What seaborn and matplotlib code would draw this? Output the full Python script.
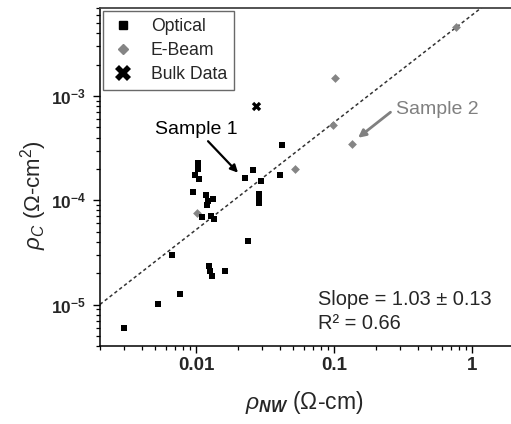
#!/usr/bin/env python
'''
plot.py - contact resistivity vs nanowire resistivity (log-log)
'''

import matplotlib
matplotlib.use("Agg")

import seaborn as sns
from matplotlib import pyplot as plt
from matplotlib.lines import Line2D
from matplotlib.ticker import NullFormatter

#
#   Data
#
# optical lithography samples: rho_NW (Ohm-cm), rho_C (Ohm-cm^2)
optical_rho_nw = [0.0417, 0.0103, 0.0103, 0.0097, 0.0104, 0.0257, 0.0226,
                  0.0295, 0.0404, 0.0094, 0.0117, 0.0131, 0.0121, 0.0119,
                  0.0110, 0.0127, 0.0134, 0.0284, 0.0284, 0.0284, 0.0237,
                  0.0067, 0.0123, 0.0126, 0.0129, 0.0162, 0.0076, 0.0053,
                  0.0030]
optical_rho_c = [3.38e-4, 2.30e-4, 1.98e-4, 1.75e-4, 1.61e-4, 1.94e-4, 1.62e-4,
                 1.52e-4, 1.75e-4, 1.21e-4, 1.12e-4, 1.04e-4, 9.8e-5, 9.1e-5,
                 6.9e-5, 7.0e-5, 6.55e-5, 1.16e-4, 1.045e-4, 9.4e-5, 4.1e-5,
                 3.0e-5, 2.36e-5, 2.11e-5, 1.87e-5, 2.08e-5, 1.26e-5, 1.01e-5,
                 6.0e-6]

# e-beam lithography samples
ebeam_rho_nw = [0.0515, 0.0101, 0.766, 0.101, 0.0977, 0.134]
ebeam_rho_c = [1.99e-4, 7.6e-5, 4.6e-3, 1.49e-3, 5.3e-4, 3.5e-4]

# bulk measurement
bulk_rho_nw = [0.0269]
bulk_rho_c = [8.1e-4]

# power law fit  rho_C = prefactor * rho_NW ** slope
fit_slope = 1.03
fit_prefactor = 6.04e-3
fit_text = "Slope = 1.03 \u00b1 0.13"
r2_text = "R\u00b2 = 0.66"

x_ticks = [0.01, 0.1, 1]
x_tick_labels = ["0.01", "0.1", "1"]
y_ticks = [1e-5, 1e-4, 1e-3]
y_tick_labels = [r"$\mathbf{10^{-5}}$", r"$\mathbf{10^{-4}}$",
                 r"$\mathbf{10^{-3}}$"]

legend_labels = ["Optical", "E-Beam", "Bulk Data"]

x_limits = (0.002, 2.0)
y_limits = (4.0e-6, 7.0e-3)


def main():

    sns.set_style("ticks")
    plt.rcParams['font.family'] = ['Liberation Sans', 'DejaVu Sans']
    plt.rcParams['mathtext.fontset'] = 'custom'
    plt.rcParams['mathtext.rm'] = 'Liberation Sans'
    plt.rcParams['mathtext.it'] = 'Liberation Sans:italic'
    plt.rcParams['mathtext.bf'] = 'Liberation Sans:bold'
    plt.rcParams['mathtext.bfit'] = 'Liberation Sans:italic:bold'

    fig = plt.figure(figsize=(5.11, 4.24), dpi=100)
    # the right end of the axes runs off the picture, like the original
    ax = fig.add_axes([100 / 511, 1 - 346 / 424, 414 / 511, 338 / 424])

    ax.set_xscale("log")
    ax.set_yscale("log")
    ax.set_xlim(*x_limits)
    ax.set_ylim(*y_limits)

    # dashed fit line
    fit_x = list(x_limits)
    fit_y = [fit_prefactor * v ** fit_slope for v in fit_x]
    sns.lineplot(x=fit_x, y=fit_y, ax=ax, color="#333333", lw=1.1,
                 dashes=False, zorder=1)
    ax.lines[-1].set_dashes((2.2, 1.8))

    sns.scatterplot(x=ebeam_rho_nw, y=ebeam_rho_c, ax=ax, marker="D",
                    color="#858585", s=20, linewidth=0, zorder=3)
    sns.scatterplot(x=optical_rho_nw, y=optical_rho_c, ax=ax, marker="s",
                    color="black", s=19, linewidth=0, zorder=4)
    sns.scatterplot(x=bulk_rho_nw, y=bulk_rho_c, ax=ax, marker="X",
                    color="black", s=45, linewidth=0, zorder=4)

    # annotations
    ax.text(0.00499, 4.78e-4, "Sample 1", fontsize=14, ha="left",
            va="center", color="black")
    ax.annotate("", xy=(0.0200, 1.84e-4), xytext=(0.01213, 3.69e-4),
                arrowprops=dict(arrowstyle="-|>", color="black", lw=1.6,
                                mutation_scale=11, shrinkA=0, shrinkB=0))
    ax.text(0.281, 7.43e-4, "Sample 2", fontsize=14, ha="left",
            va="center", color="#808080")
    ax.annotate("", xy=(0.1483, 3.98e-4), xytext=(0.2547, 7.0e-4),
                arrowprops=dict(arrowstyle="-|>", color="#808080", lw=2.0,
                                mutation_scale=11, shrinkA=0, shrinkB=0))

    ax.text(0.527, 0.121, fit_text, transform=ax.transAxes, fontsize=14.4,
            ha="left", va="baseline")
    ax.text(0.527, 0.0494, r2_text, transform=ax.transAxes, fontsize=14.4,
            ha="left", va="baseline")

    # ticks
    ax.set_xticks(x_ticks, x_tick_labels)
    ax.set_yticks(y_ticks, y_tick_labels)
    ax.xaxis.set_minor_formatter(NullFormatter())
    ax.yaxis.set_minor_formatter(NullFormatter())
    plt.setp(ax.get_xticklabels(), fontweight="bold", fontsize=13.5)
    plt.setp(ax.get_yticklabels(), fontsize=12.5)
    ax.tick_params(which="major", direction="out", length=5, width=1,
                   color="black", pad=3)
    ax.tick_params(axis="y", which="major", pad=5)
    ax.tick_params(which="minor", direction="out", length=3, width=0.9,
                   color="black")

    for side in ["left", "bottom"]:
        ax.spines[side].set_color("black")
        ax.spines[side].set_linewidth(1.1)
    ax.spines["top"].set_visible(True)
    ax.spines["top"].set_color("#444444")
    ax.spines["top"].set_linewidth(1.3)
    ax.spines["right"].set_visible(False)

    # axis labels
    fig.text(304 / 511, 1 - 403 / 424,
             r"$\mathit{\rho}_{\mathbfit{NW}}$ (" + "\u03a9" + "-cm)",
             ha="center", va="center", fontsize=16.5)
    fig.text(34 / 511, 1 - 195 / 424,
             r"$\mathit{\rho}_{\mathit{C}}$ (" + "\u03a9" + r"-cm$^{2}$)",
             ha="center", va="center", rotation=90, fontsize=16)

    # legend
    handles = [
        Line2D([], [], ls="none", marker="s", color="black", markersize=5.5),
        Line2D([], [], ls="none", marker="D", color="#858585",
               markersize=5),
        Line2D([], [], ls="none", marker="X", color="black", markersize=11,
               markeredgewidth=0),
    ]
    leg = ax.legend(handles, legend_labels, loc="upper left",
                    bbox_to_anchor=(3 / 414, 1 - 3 / 338), borderaxespad=0,
                    fontsize=12.7, frameon=True, fancybox=False,
                    handlelength=1.5, handletextpad=0.8, labelspacing=0.4,
                    borderpad=0.4)
    leg.get_frame().set_edgecolor("#444444")
    leg.get_frame().set_linewidth(1.0)

    fig.savefig("out.png", dpi=100)


main()
